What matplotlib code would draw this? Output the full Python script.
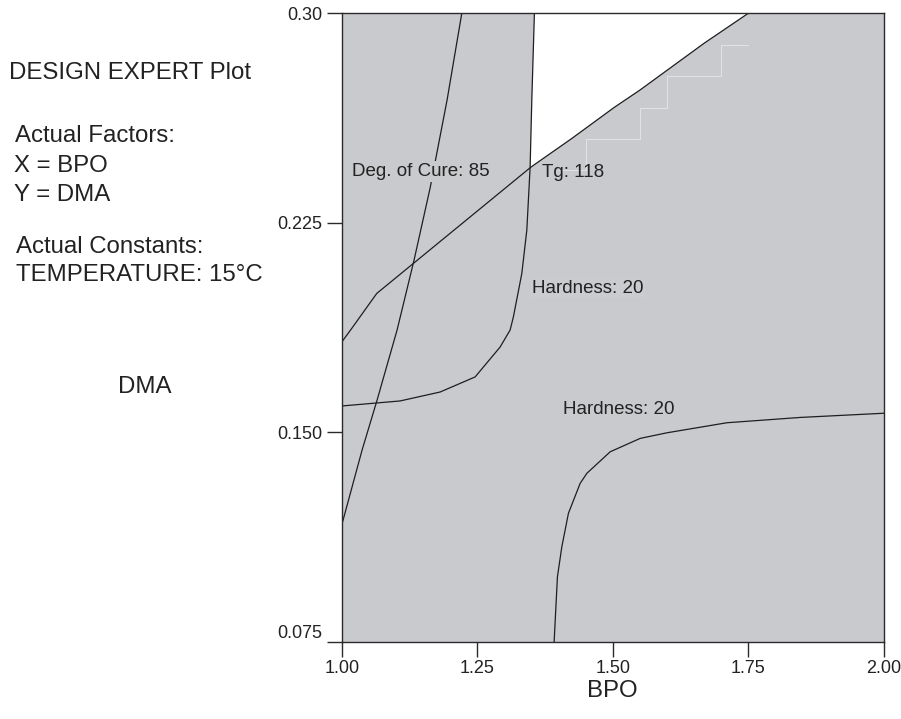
import numpy as np
import matplotlib
matplotlib.use("Agg")
import matplotlib.pyplot as plt

plt.rcParams['font.family'] = ['Liberation Sans', 'DejaVu Sans']

# Contour traces (BPO, DMA)
cure85_bpo = [1.000, 1.0375, 1.0652, 1.1021, 1.1335, 1.1630, 1.1944, 1.2215]
cure85_dma = [0.1168, 0.1436, 0.1615, 0.1866, 0.2117, 0.2374, 0.2690, 0.300]

tg118_bpo = [1.000, 1.0185, 1.0646, 1.3495, 1.4246, 1.5027, 1.5501, 1.6688, 1.7501]
tg118_dma = [0.1823, 0.1872, 0.1997, 0.2450, 0.2552, 0.2663, 0.2725, 0.2893, 0.300]

hard_up_bpo = [1.000, 1.1076, 1.1815, 1.2461, 1.2922, 1.3107, 1.3168, 1.3323,
               1.3415, 1.3476, 1.3507, 1.3555]
hard_up_dma = [0.1594, 0.1612, 0.1644, 0.1698, 0.1805, 0.1866, 0.1914, 0.2069,
               0.2224, 0.2450, 0.2690, 0.300]

hard_lo_bpo = [1.3919, 1.3980, 1.4061, 1.4183, 1.4399, 1.4523, 1.4953, 1.5507,
               1.6000, 1.7107, 1.8461, 2.000]
hard_lo_dma = [0.075, 0.0983, 0.1090, 0.1210, 0.1317, 0.1353, 0.1430, 0.1478,
               0.1498, 0.1534, 0.1553, 0.1568]

x_ticks = [1.00, 1.25, 1.50, 1.75, 2.00]
x_tick_labels = ['1.00', '1.25', '1.50', '1.75', '2.00']
y_ticks = [0.075, 0.150, 0.225, 0.30]
y_tick_labels = ['0.075', '0.150', '0.225', '0.30']

GRAY = '#c9cacd'
INK = '#1e1e1e'

fig = plt.figure(figsize=(9.01, 7.19), dpi=100)
ax = fig.add_axes([0.3793, 0.1075, 0.6015, 0.8740])
ax.set_facecolor(GRAY)
ax.set_xlim(1.0, 2.0)
ax.set_ylim(0.075, 0.30)

# Infeasible (white) region: right of upper Hardness contour and above Tg contour
cb = np.array(hard_up_bpo); cd = np.array(hard_up_dma)
tb = np.array(tg118_bpo); td = np.array(tg118_dma)
mc = cd >= 0.245
mt = td >= 0.245
poly_x = np.concatenate([cb[mc], tb[mt][::-1]])
poly_y = np.concatenate([cd[mc], td[mt][::-1]])
ax.fill(poly_x, poly_y, color='white', lw=0, zorder=1)

# Coarse-grid staircase edge along the Tg boundary
gx = np.arange(1.40, 1.7501, 0.05)
gstep = 0.225 / 20
levels = 0.075 + np.floor((np.interp(gx, tb, td) - 0.075) / gstep + 1e-9) * gstep
sx, sy = [], []
for i in range(len(gx) - 1):
    sx += [gx[i], gx[i + 1]]
    sy += [levels[i], levels[i]]
sx.append(gx[-1]); sy.append(min(levels[-1], 0.30))
ax.plot(sx, sy, color='#e3e3e5', lw=0.7, zorder=2)

lw = 0.9
ax.plot(cure85_bpo, cure85_dma, color=INK, lw=lw, zorder=3)
ax.plot(tg118_bpo, tg118_dma, color=INK, lw=lw, zorder=3)
ax.plot(hard_up_bpo, hard_up_dma, color=INK, lw=lw, zorder=3)
ax.plot(hard_lo_bpo, hard_lo_dma, color=INK, lw=lw, zorder=3)

lab_kw = dict(fontsize=13.5, color='#222222', va='center', ha='left', zorder=5)
ax.text(1.0185, 0.2433, 'Deg. of Cure: 85',
        bbox=dict(facecolor=GRAY, edgecolor='none', pad=1.5), **lab_kw)
ax.text(1.3703, 0.2431, 'Tg: 118', **lab_kw)
ax.text(1.3507, 0.2015, 'Hardness: 20',
        bbox=dict(facecolor='#cbcccf', edgecolor='none', pad=1.0), **lab_kw)
ax.text(1.4080, 0.1580, 'Hardness: 20', **lab_kw)

for s in ax.spines.values():
    s.set_color('#2a2a2a')
    s.set_linewidth(1.0)
    s.set_zorder(6)

ax.set_xticks(x_ticks, x_tick_labels)
ax.set_yticks(y_ticks, y_tick_labels)
ax.tick_params(axis='both', direction='out', length=11, width=1.0,
               color='#2a2a2a', labelsize=13, labelcolor='#222222')
ax.tick_params(axis='x', pad=2)
ax.tick_params(axis='y', pad=3)
for lbl in ax.get_yticklabels():
    if lbl.get_text() == '0.075':
        lbl.set_verticalalignment('bottom')

ax.set_xlabel('BPO', fontsize=17.3, color='#222222', labelpad=2)

# Side annotations
H = 719.0
side = [
    (9, 79.3, 'DESIGN EXPERT Plot'),
    (15, 141.7, 'Actual Factors:'),
    (14, 171.7, 'X = BPO'),
    (14, 201.0, 'Y = DMA'),
    (16, 253.0, 'Actual Constants:'),
    (16, 280.7, 'TEMPERATURE: 15°C'),
]
for px, py, txt in side:
    fig.text(px / 901.0, 1 - py / H, txt, fontsize=17.3, color='#222222',
             ha='left', va='baseline')
fig.text(145 / 901.0, 1 - 393 / H, 'DMA', fontsize=17.3, color='#222222',
         ha='center', va='baseline')

fig.savefig('out.png', dpi=100, facecolor='white')
